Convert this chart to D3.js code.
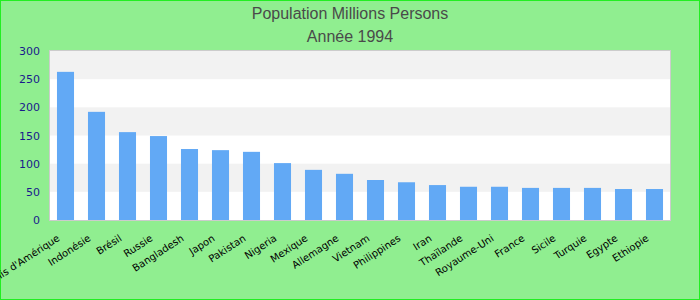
<!DOCTYPE html>
<html>
<head>
<meta charset="utf-8">
<script src="https://cdn.jsdelivr.net/npm/d3@7"></script>
<style>
  body { margin: 0; }
  svg { display: block; }
</style>
</head>
<body>
<div id="chart"></div>
<script>
// data
var countries = ["Etats-Unis d'Amérique", "Indonésie", "Brésil", "Russie", "Bangladesh", "Japon",
  "Pakistan", "Nigeria", "Mexique", "Allemagne", "Vietnam", "Philippines", "Iran", "Thaïlande",
  "Royaume-Uni", "France", "Sicile", "Turquie", "Egypte", "Ethiopie"];
var population = [263, 192, 156, 149, 126, 124, 121, 101, 89, 82, 71, 67, 62, 59, 59, 57, 57, 57, 55, 55];
var yTicks = [0, 50, 100, 150, 200, 250, 300];
var titles = ["Population Millions Persons", "Année 1994"];

var W = 700, H = 300;
var margin = {top: 51, right: 30, bottom: 80, left: 50},
    width = W - margin.left - margin.right,
    height = H - margin.top - margin.bottom;

var svg = d3.select("#chart").append("svg")
    .attr("width", W)
    .attr("height", H);

// background + frame
svg.append("rect")
    .attr("x", 0.5).attr("y", 0.5)
    .attr("width", W - 1).attr("height", H - 1)
    .attr("fill", "#90ee90")
    .attr("stroke", "#22ee22");

// titles
svg.selectAll(".title")
    .data(titles)
  .enter().append("text")
    .attr("class", "title")
    .attr("x", W / 2)
    .attr("y", function(d, i) { return 19 + i * 23; })
    .attr("text-anchor", "middle")
    .style("font-family", "Liberation Sans, Arial, sans-serif")
    .style("font-size", "16px")
    .style("fill", "#4a4a4a")
    .text(function(d) { return d; });

var g = svg.append("g")
    .attr("transform", "translate(" + margin.left + "," + margin.top + ")");

// scales
var x = d3.scaleBand()
    .domain(countries)
    .range([0, width])
    .paddingInner(0.45)
    .paddingOuter(0.225);

var y = d3.scaleLinear()
    .domain([0, 300])
    .range([height, 0]);

// plot area + alternating bands
g.append("rect")
    .attr("width", width).attr("height", height)
    .attr("fill", "#ffffff");

var bands = d3.pairs(yTicks).filter(function(d, i) { return i % 2 == 1; });
g.selectAll(".band")
    .data(bands)
  .enter().append("rect")
    .attr("class", "band")
    .attr("x", 0)
    .attr("width", width)
    .attr("y", function(d) { return y(d[1]); })
    .attr("height", function(d) { return y(d[0]) - y(d[1]); })
    .attr("fill", "#f2f2f2");

// bars
g.selectAll(".bar")
    .data(population)
  .enter().append("rect")
    .attr("class", "bar")
    .attr("x", function(d, i) { return x(countries[i]); })
    .attr("width", x.bandwidth())
    .attr("y", function(d) { return y(d); })
    .attr("height", function(d) { return height - y(d); })
    .attr("fill", "#62a9f5");

// plot border
g.append("rect")
    .attr("x", -0.5).attr("y", -0.5)
    .attr("width", width + 1).attr("height", height + 1)
    .attr("fill", "none")
    .attr("stroke", "#cccccc");

// y axis
var yAxis = g.append("g")
    .attr("transform", "translate(-10,0)")
    .call(d3.axisLeft(y).tickValues(yTicks).tickSize(0).tickPadding(0));
yAxis.select(".domain").remove();
yAxis.selectAll("text")
    .style("font-family", "DejaVu Sans, Verdana, sans-serif")
    .style("font-size", "11px")
    .style("fill", "#1a1a8c");

// x axis - rotated labels
var xAxis = g.append("g")
    .attr("transform", "translate(0," + height + ")")
    .call(d3.axisBottom(x).tickSize(0).tickPadding(0));
xAxis.select(".domain").remove();
xAxis.selectAll("text")
    .style("font-family", "DejaVu Sans, Verdana, sans-serif")
    .style("font-size", "10px")
    .style("fill", "#000")
    .attr("text-anchor", "end")
    .attr("dy", null)
    .attr("y", 0)
    .attr("transform", "translate(-5,20) rotate(-33)");
</script>
</body>
</html>
